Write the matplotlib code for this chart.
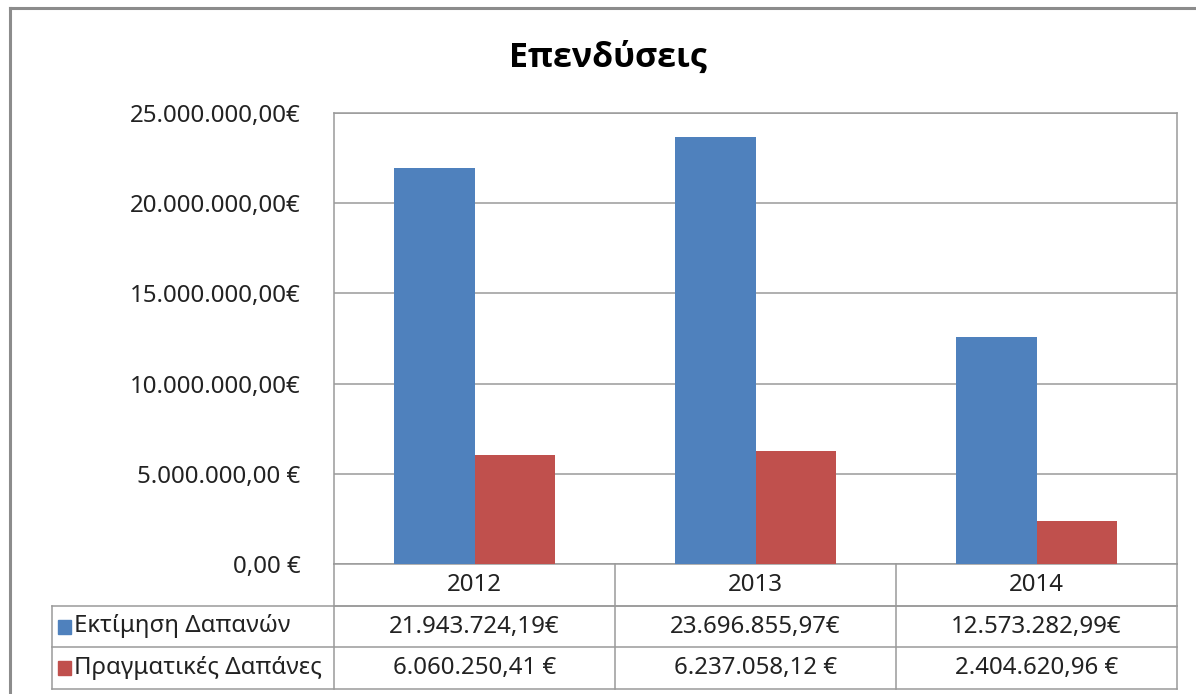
import matplotlib
matplotlib.use("Agg")
import matplotlib.pyplot as plt
from matplotlib.lines import Line2D
from matplotlib.patches import Rectangle
import matplotlib.transforms as mtransforms

plt.rcParams['font.family'] = ['Noto Sans', 'DejaVu Sans']

title = "Επενδύσεις"
categories = ["2012", "2013", "2014"]
series_names = ["Εκτίμηση Δαπανών", "Πραγματικές Δαπάνες"]
estimate = [21943724.19, 23696855.97, 12573282.99]
actual = [6060250.41, 6237058.12, 2404620.96]
yticks = [0, 5000000, 10000000, 15000000, 20000000, 25000000]
colors = ["#4F81BD", "#C0504D"]


def eur(v):
    s = f"{v:,.2f}".replace(",", "X").replace(".", ",").replace("X", ".")
    return s + ("€" if v >= 10000000 else " €")


W, H = 1196, 694
fig = plt.figure(figsize=(W / 100, H / 100), dpi=100)
fig.patch.set_facecolor("white")

L, R, T, B = 334, 1177, 113, 564
ax = fig.add_axes([L / W, 1 - B / H, (R - L) / W, (B - T) / H])

x = list(range(len(categories)))
bw = 0.286
ax.bar([i - bw / 2 for i in x], estimate, width=bw, color=colors[0], zorder=3)
ax.bar([i + bw / 2 for i in x], actual, width=bw, color=colors[1], zorder=3)

fs = 17.3
ax.set_xlim(-0.5, len(categories) - 0.5)
ax.set_ylim(0, 25000000)
ax.set_yticks(yticks)
ax.set_yticklabels([eur(v) for v in yticks], fontsize=fs, color="#222222")
ax.set_xticks([])
ax.tick_params(axis="y", length=0, pad=24)
ax.yaxis.grid(True, color="#9A9A9A", linewidth=1.1, zorder=0)
for s in ax.spines.values():
    s.set_color("#9A9A9A")
    s.set_linewidth(1.1)

# data table below axes
gc = "#9A9A9A"
row_px = [0, 42, 83, 125]
rows = [-(p) / (B - T) for p in row_px]
left_fig = 52 / W
blend = mtransforms.blended_transform_factory(ax.transData, ax.transAxes)
blend_fig = mtransforms.blended_transform_factory(fig.transFigure, ax.transAxes)
n = len(categories)

for i in range(n + 1):
    ax.add_line(Line2D([i - 0.5, i - 0.5], [rows[0], rows[3]], transform=blend,
                       color=gc, lw=1.1, clip_on=False))
ax.add_line(Line2D([-0.5, n - 0.5], [rows[1], rows[1]], transform=blend, color=gc, lw=1.1, clip_on=False))
for r in rows[1:]:
    ax.add_line(Line2D([left_fig, R / W], [r, r], transform=blend_fig, color=gc, lw=1.1, clip_on=False))
ax.add_line(Line2D([left_fig, left_fig], [rows[1], rows[3]], transform=blend_fig, color=gc, lw=1.1, clip_on=False))

for i, c in enumerate(categories):
    ax.text(i, (rows[0] + rows[1]) / 2, c, transform=blend, ha="center", va="center",
            fontsize=fs, color="#222222", clip_on=False)
for j, vals in enumerate([estimate, actual]):
    yc = (rows[j + 1] + rows[j + 2]) / 2
    for i, v in enumerate(vals):
        ax.text(i, yc, eur(v), transform=blend, ha="center", va="center",
                fontsize=fs, color="#222222", clip_on=False)
    kh = 14 / (B - T)
    ax.add_patch(Rectangle((58 / W, yc - kh / 2), 13 / W, kh, transform=blend_fig,
                           color=colors[j], clip_on=False))
    ax.text(74 / W, yc, series_names[j], transform=blend_fig, ha="left", va="center",
            fontsize=fs, color="#222222", clip_on=False)

fig.text(608 / W, 1 - 58 / H, title, ha="center", va="center", fontsize=24.5,
         fontweight="bold", color="black", family=['Open Sans', 'DejaVu Sans'])

fig.add_artist(Line2D([10 / W, 10 / W], [0, 1 - 8 / H], color="#8C8C8C", lw=2.2))
fig.add_artist(Line2D([10 / W, 1], [1 - 8 / H, 1 - 8 / H], color="#8C8C8C", lw=2.2))

fig.savefig("out.png", dpi=100)
